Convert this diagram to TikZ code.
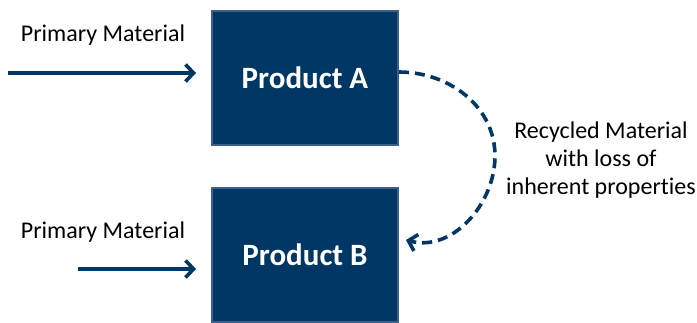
\documentclass[tikz,border=0pt]{standalone}
\usepackage{fontspec}
\setmainfont{Carlito}[Ligatures=NoCommon]
\usetikzlibrary{arrows.meta}
\definecolor{navy}{RGB}{0,55,100}
\definecolor{navyedge}{RGB}{62,96,140}

\begin{document}
\begin{tikzpicture}[x=1pt,y=-1pt,
  product/.style={draw=navyedge,line width=2pt,fill=navy,text=white,
    minimum width=186pt,minimum height=134pt,font=\fontsize{31}{36}\selectfont\bfseries},
  label/.style={font=\fontsize{24}{28}\selectfont},
  flow/.style={navy,line width=3.6pt,-{Straight Barb[length=8pt,width=17pt]}}]
\useasboundingbox (0,0) rectangle (697,322);
\node[product] (A) at (305,78) {Product A};
\node[product] (B) at (305,255) {Product B};
\coordinate (inA) at (8,73);
\coordinate (inB) at (78,269);
\coordinate (turn) at (495,156);
\node[label] (pmA) at (103,35) {Primary Material};
\node[label] (pmB) at (103,232) {Primary Material};
\node[label,align=center] (rec) at (601,160) {Recycled Material\\with loss of\\inherent properties};
\draw[flow,shorten >=15pt] (inA) -- ([yshift=5pt]A.west);
\draw[flow,shorten >=15pt] (inB) -- ([yshift=-14pt]B.west);
\draw[flow,dash pattern=on 10pt off 6pt] ([yshift=6pt]A.east) to[out=0,in=90] (turn)
  to[out=-90,in=-15] ([xshift=7pt,yshift=15pt]B.east);
\end{tikzpicture}
\end{document}
